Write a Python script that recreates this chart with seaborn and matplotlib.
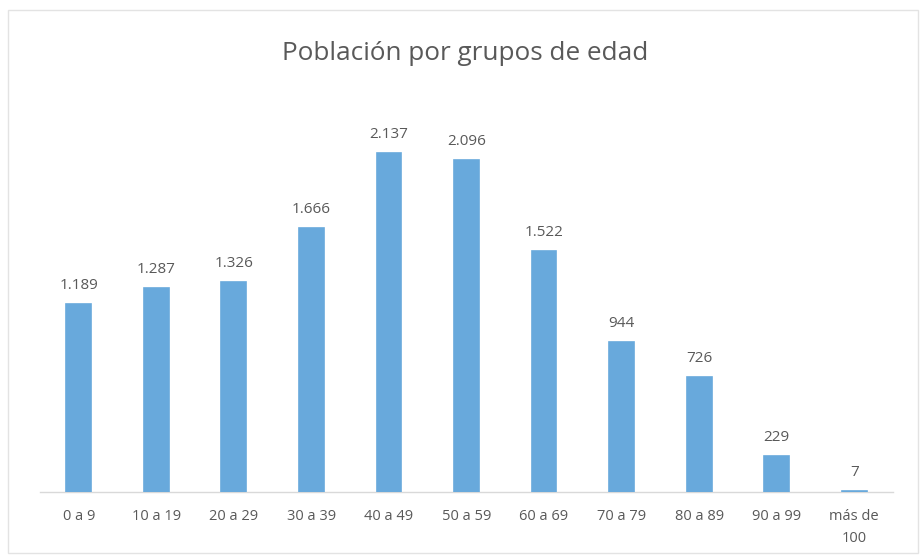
import matplotlib

matplotlib.use("Agg")

import matplotlib.pyplot as plt
import pandas as pd
import seaborn as sns
from matplotlib.patches import Rectangle

groups = ["0 a 9", "10 a 19", "20 a 29", "30 a 39", "40 a 49", "50 a 59",
          "60 a 69", "70 a 79", "80 a 89", "90 a 99", "más de\n100"]
population = [1189, 1287, 1326, 1666, 2137, 2096, 1522, 944, 726, 229, 7]

BAR = "#68A9DC"
TEXT = "#595959"

sns.set_theme(style="white")
plt.rcParams["font.family"] = ["Open Sans", "DejaVu Sans"]

df = pd.DataFrame({"grupo": groups, "poblacion": population})

fig = plt.figure(figsize=(9.22, 5.59), dpi=100)
ax = fig.add_axes([40 / 922, 67 / 559, 853 / 922, 396 / 559])
sns.barplot(data=df, x="grupo", y="poblacion", color=BAR, width=0.32,
            saturation=1, ax=ax, zorder=3, edgecolor=BAR, linewidth=1.2)
ax.set_xlim(-0.5, len(groups) - 0.5)
ax.set_ylim(0, 2500)
ax.set_xlabel("")
ax.set_ylabel("")
ax.set_yticks([])
for side in ["top", "left", "right"]:
    ax.spines[side].set_visible(False)
ax.spines["bottom"].set_color("#D9D9D9")
ax.spines["bottom"].set_linewidth(1.0)
ax.spines["bottom"].set_zorder(1)
ax.tick_params(axis="x", length=0, pad=12, labelsize=10.5, colors=TEXT)
for lbl in ax.get_xticklabels():
    lbl.set_verticalalignment("top")
    lbl.set_linespacing(1.65)

for i, value in enumerate(population):
    txt = f"{value:,}".replace(",", ".")
    ax.annotate(txt, (i, value), xytext=(0, 8), textcoords="offset points",
                ha="center", va="bottom", fontsize=11, color=TEXT)

fig.text(465 / 922, 1 - 53 / 559, "Población por grupos de edad", ha="center",
         va="center", fontsize=18.8, color=TEXT)
fig.patches.append(Rectangle((8 / 922, 6 / 559), 910 / 922, 543 / 559,
                             transform=fig.transFigure, fill=False,
                             edgecolor="#E3E3E3", linewidth=1.0))

fig.savefig("out.png", dpi=100)
